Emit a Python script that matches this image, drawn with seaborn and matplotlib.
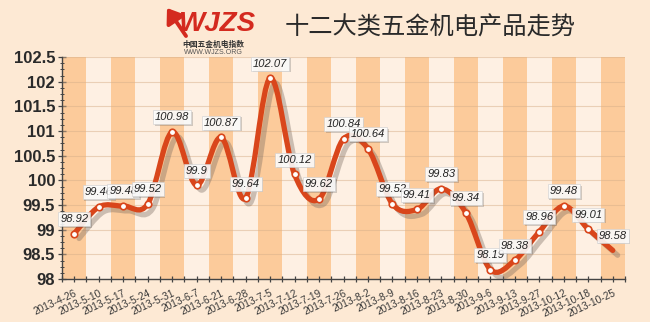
import numpy as np
import pandas as pd
import matplotlib
matplotlib.use("Agg")
import matplotlib.pyplot as plt
import seaborn as sns
from matplotlib.path import Path
from matplotlib.patches import PathPatch
import matplotlib.patheffects as pe

dates = ["2013-4-26", "2013-5-10", "2013-5-17", "2013-5-24", "2013-5-31", "2013-6-7",
         "2013-6-21", "2013-6-28", "2013-7-5", "2013-7-12", "2013-7-19", "2013-7-26",
         "2013-8-2", "2013-8-9", "2013-8-16", "2013-8-23", "2013-8-30", "2013-9-6",
         "2013-9-13", "2013-9-27", "2013-10-12", "2013-10-18", "2013-10-25"]
values = [98.92, 99.46, 99.48, 99.52, 100.98, 99.9, 100.87, 99.64, 102.07, 100.12,
          99.62, 100.84, 100.64, 99.52, 99.41, 99.83, 99.34, 98.19, 98.38, 98.96,
          99.48, 99.01, 98.58]
yticks = [98, 98.5, 99, 99.5, 100, 100.5, 101, 101.5, 102, 102.5]
ytick_labels = ["98", "98.5", "99", "99.5", "100", "100.5", "101", "101.5", "102", "102.5"]
title = "十二大类五金机电产品走势"

sns.set_theme(style="white")
plt.rcParams["font.family"] = ["Liberation Sans", "Noto Sans CJK SC", "DejaVu Sans"]

BG = "#fde9d4"
DARK = "#fccb9b"
LIGHT = "#fef0e3"
LINE = "#d9461b"

df = pd.DataFrame({"date": dates, "value": values, "pos": np.arange(len(dates))})

fig = plt.figure(figsize=(6.5, 3.22), dpi=100, facecolor=BG)
ax = fig.add_axes([62 / 650, 1 - 279 / 322, 563 / 650, (279 - 57) / 322])
ax.set_facecolor(BG)

n = len(dates)
for i in range(n):
    ax.axvspan(i - 0.5, i + 0.5, color=DARK if i % 2 == 0 else LIGHT, zorder=0, lw=0)

ax.set_xlim(-0.5, n - 0.5)
ax.set_ylim(98, 102.5)
for v in yticks:
    ax.axhline(v, color="#d8b08a", lw=0.8, alpha=0.5, zorder=1)

# smooth curve (Catmull-Rom as cubic Bezier)
x = df["pos"].to_numpy(dtype=float)
y = df["value"].to_numpy(dtype=float)
P = np.column_stack([x, y])
verts = [P[0]]
codes = [Path.MOVETO]
for i in range(n - 1):
    p0 = P[i - 1] if i > 0 else P[i]
    p1 = P[i]
    p2 = P[i + 1]
    p3 = P[i + 2] if i + 2 < n else P[i + 1]
    c1 = p1 + (p2 - p0) / 6.0
    c2 = p2 - (p3 - p1) / 6.0
    verts += [c1, c2, p2]
    codes += [Path.CURVE4] * 3
path = Path(np.array(verts), codes)
patch = PathPatch(path, facecolor="none", edgecolor=LINE, lw=3.8, zorder=3,
                  capstyle="round", joinstyle="round")
patch.set_path_effects([pe.SimpleLineShadow(offset=(3.5, -3.5), shadow_color="#7a6a60", alpha=0.38),
                        pe.Normal()])
ax.add_patch(patch)

sns.scatterplot(data=df.iloc[:-1], x="pos", y="value", ax=ax, s=22, marker="o",
                color="white", edgecolor=LINE, linewidth=1.2, zorder=4, legend=False)

for xi, yi in zip(x, y):
    t = ax.annotate(f"{yi:g}", (xi, yi), xytext=(0, 10.5), textcoords="offset points",
                    ha="center", va="center", fontsize=8, style="italic", color="#222",
                    zorder=6,
                    bbox=dict(boxstyle="square,pad=0.18", fc="white", ec="#d0d0d0", lw=0.5, alpha=0.88))
    t.get_bbox_patch().set_path_effects([pe.SimplePatchShadow(offset=(1.2, -1.2), alpha=0.25), pe.Normal()])

ax.set_yticks(yticks)
ax.set_yticklabels(ytick_labels, fontsize=12, fontweight="bold", color="#2a2a2a")
ax.set_yticks(np.arange(98, 102.51, 0.125), minor=True)
ax.set_xticks(np.arange(n))
ax.set_xticklabels(dates, rotation=25, ha="right", rotation_mode="anchor",
                   fontsize=7.3, color="#3a3a3a")
ax.set_xticks(np.arange(-0.5, n, 1.0), minor=True)
ax.tick_params(axis="y", which="major", direction="inout", length=6, width=0.9, color="#444", pad=2, left=True)
ax.tick_params(axis="y", which="minor", direction="inout", length=3, width=0.7, color="#444", left=True)
ax.tick_params(axis="x", which="both", direction="inout", length=5, width=0.9, color="#444", pad=4, bottom=True)
ax.set_xlabel("")
ax.set_ylabel("")
for s in ["top", "right"]:
    ax.spines[s].set_visible(False)
for s in ["left", "bottom"]:
    ax.spines[s].set_color("#444")
    ax.spines[s].set_linewidth(1.0)
ax.grid(False)

# title
fig.text(430 / 650, 1 - 28 / 322, title, ha="center", va="center", fontsize=17.5,
         color="#2a2a2a", family=["Noto Sans CJK SC", "DejaVu Sans"])

# logo
fig.text(218 / 650, 1 - 24 / 322, "WJZS", ha="center", va="center", fontsize=20,
         fontweight="bold", style="italic", color="#d42a1f", family=["Liberation Sans"])
ax.annotate("", xy=(167 / 650, 1 - 8 / 322), xytext=(186 / 650, 1 - 36 / 322),
            xycoords="figure fraction", textcoords="figure fraction",
            arrowprops=dict(arrowstyle="-|>,head_width=0.5,head_length=0.7", color="#d42a1f",
                            lw=2.8, shrinkA=0, shrinkB=0))
fig.text(213 / 650, 1 - 44 / 322, "中国五金机电指数", ha="center", va="center", fontsize=5.6,
         fontweight="bold", color="#333", family=["Noto Sans CJK SC", "DejaVu Sans"])
fig.text(213 / 650, 1 - 52 / 322, "WWW.WJZS.ORG", ha="center", va="center", fontsize=5,
         color="#555", family=["Liberation Sans"])

fig.savefig("out.png", dpi=100, facecolor=BG)
